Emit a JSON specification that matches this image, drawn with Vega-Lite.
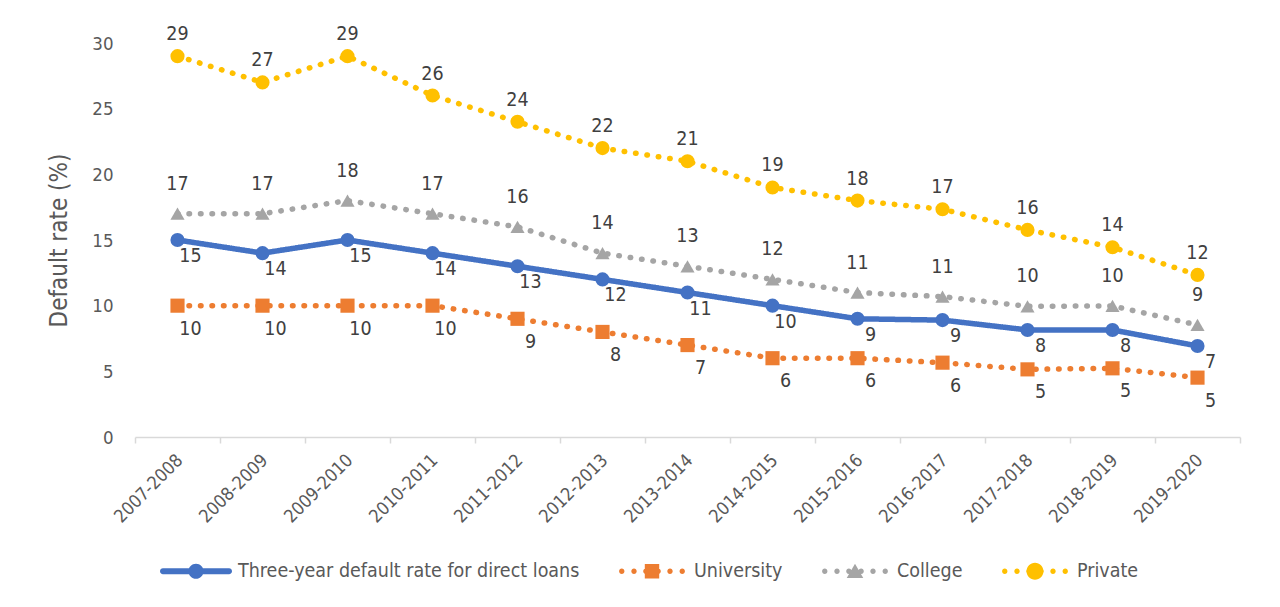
{
  "$schema": "https://vega.github.io/schema/vega-lite/v6.json",
  "width": 1105,
  "height": 394,
  "autosize": {"type": "none"},
  "padding": {"left": 135, "top": 43, "right": 40, "bottom": 170},
  "background": "white",
  "config": {
    "font": "DejaVu Sans Condensed, DejaVu Sans, sans-serif",
    "view": {"stroke": null},
    "axis": {"grid": false, "labelFont": "DejaVu Sans Condensed, DejaVu Sans, sans-serif", "titleFont": "DejaVu Sans Condensed, DejaVu Sans, sans-serif"},
    "legend": {"labelFont": "DejaVu Sans Condensed, DejaVu Sans, sans-serif"}
  },
  "data": {
    "values": [
      {"year": "2007-2008", "series": "Three-year default rate for direct loans", "value": 15},
      {"year": "2008-2009", "series": "Three-year default rate for direct loans", "value": 14},
      {"year": "2009-2010", "series": "Three-year default rate for direct loans", "value": 15},
      {"year": "2010-2011", "series": "Three-year default rate for direct loans", "value": 14},
      {"year": "2011-2012", "series": "Three-year default rate for direct loans", "value": 13},
      {"year": "2012-2013", "series": "Three-year default rate for direct loans", "value": 12},
      {"year": "2013-2014", "series": "Three-year default rate for direct loans", "value": 11},
      {"year": "2014-2015", "series": "Three-year default rate for direct loans", "value": 10},
      {"year": "2015-2016", "series": "Three-year default rate for direct loans", "value": 9},
      {"year": "2016-2017", "series": "Three-year default rate for direct loans", "value": 8.9},
      {"year": "2017-2018", "series": "Three-year default rate for direct loans", "value": 8.15},
      {"year": "2018-2019", "series": "Three-year default rate for direct loans", "value": 8.15},
      {"year": "2019-2020", "series": "Three-year default rate for direct loans", "value": 6.93},
      {"year": "2007-2008", "series": "University", "value": 10},
      {"year": "2008-2009", "series": "University", "value": 10},
      {"year": "2009-2010", "series": "University", "value": 10},
      {"year": "2010-2011", "series": "University", "value": 10},
      {"year": "2011-2012", "series": "University", "value": 9},
      {"year": "2012-2013", "series": "University", "value": 8},
      {"year": "2013-2014", "series": "University", "value": 7},
      {"year": "2014-2015", "series": "University", "value": 6},
      {"year": "2015-2016", "series": "University", "value": 6},
      {"year": "2016-2017", "series": "University", "value": 5.66},
      {"year": "2017-2018", "series": "University", "value": 5.15},
      {"year": "2018-2019", "series": "University", "value": 5.23},
      {"year": "2019-2020", "series": "University", "value": 4.52},
      {"year": "2007-2008", "series": "College", "value": 17},
      {"year": "2008-2009", "series": "College", "value": 17},
      {"year": "2009-2010", "series": "College", "value": 18},
      {"year": "2010-2011", "series": "College", "value": 17},
      {"year": "2011-2012", "series": "College", "value": 16},
      {"year": "2012-2013", "series": "College", "value": 14},
      {"year": "2013-2014", "series": "College", "value": 13},
      {"year": "2014-2015", "series": "College", "value": 12},
      {"year": "2015-2016", "series": "College", "value": 11},
      {"year": "2016-2017", "series": "College", "value": 10.69},
      {"year": "2017-2018", "series": "College", "value": 9.95},
      {"year": "2018-2019", "series": "College", "value": 9.98},
      {"year": "2019-2020", "series": "College", "value": 8.53},
      {"year": "2007-2008", "series": "Private", "value": 29},
      {"year": "2008-2009", "series": "Private", "value": 27},
      {"year": "2009-2010", "series": "Private", "value": 29},
      {"year": "2010-2011", "series": "Private", "value": 26},
      {"year": "2011-2012", "series": "Private", "value": 24},
      {"year": "2012-2013", "series": "Private", "value": 22},
      {"year": "2013-2014", "series": "Private", "value": 21},
      {"year": "2014-2015", "series": "Private", "value": 19},
      {"year": "2015-2016", "series": "Private", "value": 18},
      {"year": "2016-2017", "series": "Private", "value": 17.34},
      {"year": "2017-2018", "series": "Private", "value": 15.77},
      {"year": "2018-2019", "series": "Private", "value": 14.45},
      {"year": "2019-2020", "series": "Private", "value": 12.34}
    ]
  },
  "layer": [
    {
      "encoding": {
        "x": {
          "field": "year", "type": "ordinal",
          "scale": {"type": "band", "paddingInner": 0, "paddingOuter": 0},
          "axis": {
            "title": null, "labelAngle": -45, "labelFontSize": 18, "labelColor": "#595959",
            "domainColor": "#d9d9d9", "domainWidth": 1.5, "tickColor": "#d9d9d9", "tickWidth": 1.5,
            "tickSize": 6, "tickBand": "extent", "labelPadding": 8, "labelOffset": -4
          }
        },
        "y": {
          "field": "value", "type": "quantitative",
          "scale": {"domain": [0, 30], "nice": false},
          "axis": {
            "title": "Default rate (%)", "titleFontSize": 24, "titleFontWeight": "normal", "titleColor": "#595959",
            "titlePadding": 20, "values": [0, 5, 10, 15, 20, 25, 30], "domain": false, "ticks": false,
            "labelPadding": 22, "labelFontSize": 18.5, "labelColor": "#595959"
          }
        }
      },
      "layer": [
        {
          "mark": {"type": "line", "strokeWidth": 5.5, "strokeCap": "round", "strokeJoin": "round"},
          "encoding": {
            "color": {"field": "series", "type": "nominal", "legend": null,
              "scale": {"domain": ["Three-year default rate for direct loans", "University", "College", "Private"], "range": ["#4472C4", "#ED7D31", "#A5A5A5", "#FFC000"]}},
            "strokeDash": {"field": "series", "type": "nominal", "legend": null,
              "scale": {"domain": ["Three-year default rate for direct loans", "University", "College", "Private"], "range": [[1, 0], [0.5, 11], [0.5, 11], [0.5, 11]]}}
          }
        },
        {
          "mark": {"type": "point", "filled": true, "opacity": 1},
          "encoding": {
            "color": {"field": "series", "type": "nominal", "legend": null,
              "scale": {"domain": ["Three-year default rate for direct loans", "University", "College", "Private"], "range": ["#4472C4", "#ED7D31", "#A5A5A5", "#FFC000"]}},
            "shape": {"field": "series", "type": "nominal", "legend": null,
              "scale": {"domain": ["Three-year default rate for direct loans", "University", "College", "Private"], "range": ["circle", "square", "triangle-up", "circle"]}},
            "size": {"field": "series", "type": "nominal", "legend": null,
              "scale": {"domain": ["Three-year default rate for direct loans", "University", "College", "Private"], "range": [200, 200, 230, 270]}}
          }
        },
        {
          "transform": [{"filter": "datum.series == 'Private'"}],
          "mark": {"type": "text", "dy": -22, "fontSize": 19.5, "color": "#404040", "baseline": "middle"},
          "encoding": {"text": {"field": "value", "type": "quantitative", "format": ".0f"}}
        },
        {
          "transform": [{"filter": "datum.series == 'College'"}],
          "mark": {"type": "text", "dy": -30, "fontSize": 19.5, "color": "#404040", "baseline": "middle"},
          "encoding": {"text": {"field": "value", "type": "quantitative", "format": ".0f"}}
        },
        {
          "transform": [{"filter": "datum.series == 'Three-year default rate for direct loans'"}],
          "mark": {"type": "text", "dx": 13, "dy": 16, "fontSize": 19.5, "color": "#404040", "baseline": "middle"},
          "encoding": {"text": {"field": "value", "type": "quantitative", "format": ".0f"}}
        },
        {
          "transform": [{"filter": "datum.series == 'University'"}],
          "mark": {"type": "text", "dx": 13, "dy": 23, "fontSize": 19.5, "color": "#404040", "baseline": "middle"},
          "encoding": {"text": {"field": "value", "type": "quantitative", "format": ".0f"}}
        }
      ]
    },
    {
      "transform": [{"filter": "datum.value > 100"}],
      "mark": {"type": "point", "filled": true, "opacity": 1},
      "encoding": {
        "color": {"field": "series", "type": "nominal",
          "scale": {"domain": ["Three-year default rate for direct loans", "University", "College", "Private"], "range": ["#4472C4", "#ED7D31", "#A5A5A5", "#FFC000"]},
          "legend": {"title": null, "orient": "none", "legendX": 25, "legendY": 492, "direction": "horizontal", "columns": 4,
            "symbolSize": 5184, "symbolStrokeWidth": 0, "symbolOpacity": 1, "labelFontSize": 19.5, "labelColor": "#595959",
            "labelLimit": 0, "labelOffset": 6, "columnPadding": 36, "padding": 0}},
        "shape": {"field": "series", "type": "nominal",
          "scale": {"domain": ["Three-year default rate for direct loans", "University", "College", "Private"],
            "range": [
              "M-0.917,-0.083L0.917,-0.083A0.083,0.083,0,0,1,0.917,0.083L-0.917,0.083A0.083,0.083,0,0,1,-0.917,-0.083Z M-0.21,0A0.21,0.21,0,1,1,0.21,0A0.21,0.21,0,1,1,-0.21,0Z",
              "M-0.915,0A0.075,0.075,0,1,1,-0.765,0A0.075,0.075,0,1,1,-0.915,0Z M-0.575,0A0.075,0.075,0,1,1,-0.425,0A0.075,0.075,0,1,1,-0.575,0Z M-0.245,0A0.075,0.075,0,1,1,-0.095,0A0.075,0.075,0,1,1,-0.245,0Z M0.095,0A0.075,0.075,0,1,1,0.245,0A0.075,0.075,0,1,1,0.095,0Z M0.425,0A0.075,0.075,0,1,1,0.575,0A0.075,0.075,0,1,1,0.425,0Z M0.765,0A0.075,0.075,0,1,1,0.915,0A0.075,0.075,0,1,1,0.765,0Z M-0.2,-0.2L0.2,-0.2L0.2,0.2L-0.2,0.2Z",
              "M-0.915,0A0.075,0.075,0,1,1,-0.765,0A0.075,0.075,0,1,1,-0.915,0Z M-0.575,0A0.075,0.075,0,1,1,-0.425,0A0.075,0.075,0,1,1,-0.575,0Z M-0.245,0A0.075,0.075,0,1,1,-0.095,0A0.075,0.075,0,1,1,-0.245,0Z M0.095,0A0.075,0.075,0,1,1,0.245,0A0.075,0.075,0,1,1,0.095,0Z M0.425,0A0.075,0.075,0,1,1,0.575,0A0.075,0.075,0,1,1,0.425,0Z M0.765,0A0.075,0.075,0,1,1,0.915,0A0.075,0.075,0,1,1,0.765,0Z M0,-0.21L0.23,0.19L-0.23,0.19Z",
              "M-0.915,0A0.075,0.075,0,1,1,-0.765,0A0.075,0.075,0,1,1,-0.915,0Z M-0.575,0A0.075,0.075,0,1,1,-0.425,0A0.075,0.075,0,1,1,-0.575,0Z M-0.245,0A0.075,0.075,0,1,1,-0.095,0A0.075,0.075,0,1,1,-0.245,0Z M0.095,0A0.075,0.075,0,1,1,0.245,0A0.075,0.075,0,1,1,0.095,0Z M0.425,0A0.075,0.075,0,1,1,0.575,0A0.075,0.075,0,1,1,0.425,0Z M0.765,0A0.075,0.075,0,1,1,0.915,0A0.075,0.075,0,1,1,0.765,0Z M-0.235,0A0.235,0.235,0,1,1,0.235,0A0.235,0.235,0,1,1,-0.235,0Z"
            ]},
          "legend": {"title": null, "orient": "none", "legendX": 25, "legendY": 492, "direction": "horizontal", "columns": 4,
            "symbolSize": 5184, "symbolStrokeWidth": 0, "symbolOpacity": 1, "labelFontSize": 19.5, "labelColor": "#595959",
            "labelLimit": 0, "labelOffset": 6, "columnPadding": 36, "padding": 0}}
      }
    }
  ],
  "resolve": {"scale": {"color": "independent", "shape": "independent"}}
}
